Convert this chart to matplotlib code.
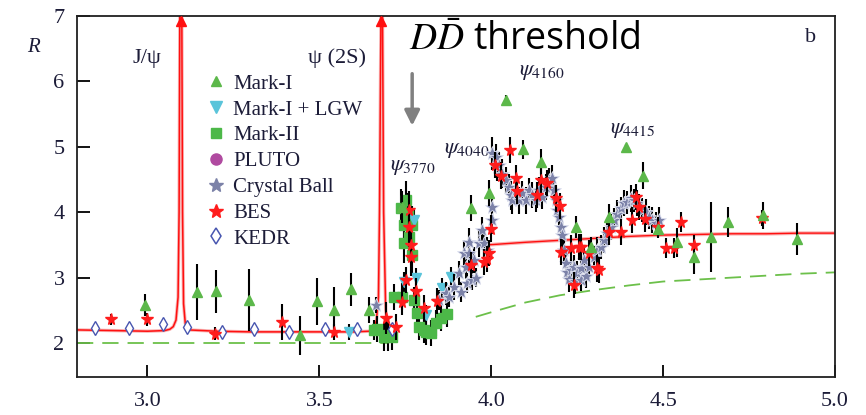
import matplotlib
matplotlib.use("Agg")
import matplotlib.pyplot as plt
from matplotlib.lines import Line2D

plt.rcParams['mathtext.fontset'] = 'stix'

# ---------------- data ----------------
# red resonance + continuum curve (low-energy part)
curve_x = [2.795, 2.9, 3.0, 3.05, 3.065, 3.075, 3.083, 3.089, 3.092, 3.0945,
           3.0995, 3.102, 3.105, 3.11, 3.12, 3.2, 3.3, 3.4, 3.5, 3.6, 3.645,
           3.658, 3.666, 3.672, 3.675, 3.680, 3.683, 3.687, 3.693, 3.70, 3.73]
curve_R = [2.20, 2.19, 2.18, 2.19, 2.21, 2.25, 2.35, 2.70, 4.0, 7.6,
           7.6, 4.0, 2.6, 2.30, 2.20, 2.18, 2.17, 2.17, 2.17, 2.17, 2.18,
           2.22, 2.35, 2.70, 4.0, 7.6, 7.6, 4.0, 2.50, 2.28, 2.25]
peak_x = [3.097, 3.680]
peak_R = [6.93, 6.93]

cont_x = [3.99, 4.1, 4.2, 4.3, 4.4, 4.5, 4.6, 4.7, 4.8, 4.9, 5.0]
cont_R = [3.50, 3.54, 3.57, 3.60, 3.63, 3.65, 3.66, 3.67, 3.67, 3.68, 3.68]

dash1_x = [2.795, 3.70]
dash1_R = [2.0, 2.0]
dash2_x = [3.955, 4.0, 4.1, 4.2, 4.3, 4.4, 4.5, 4.6, 4.7, 4.8, 4.9, 5.0]
dash2_R = [2.40, 2.47, 2.62, 2.73, 2.81, 2.88, 2.94, 2.97, 3.00, 3.03, 3.06, 3.08]

markI_x = [2.994, 3.145, 3.198, 3.296, 3.445, 3.494, 3.544, 3.593, 3.643, 3.741,
           3.942, 3.994, 4.044, 4.093, 4.145, 4.247, 4.29, 4.343, 4.392, 4.442,
           4.486, 4.54, 4.59, 4.64, 4.69, 4.79, 4.89]
markI_R = [2.58, 2.78, 2.79, 2.66, 2.12, 2.64, 2.50, 2.82, 2.50, 4.08,
           4.07, 4.29, 5.71, 4.96, 4.77, 3.77, 3.47, 3.92, 4.99, 4.56,
           3.75, 3.54, 3.31, 3.62, 3.85, 3.95, 3.59]
markI_e = [0.17, 0.43, 0.33, 0.47, 0.30, 0.36, 0.35, 0.25, 0.20, 0.25,
           0.20, 0.20, 0.08, 0.15, 0.19, 0.17, 0.15, 0.20, 0.06, 0.20,
           0.15, 0.22, 0.25, 0.53, 0.23, 0.20, 0.25]

lgw_x = [3.587, 3.747, 3.776, 3.782, 3.810, 3.858, 3.884]
lgw_R = [2.17, 2.93, 3.88, 2.99, 2.43, 2.84, 3.01]
lgw_e = [0.12, 0.15, 0.15, 0.15, 0.15, 0.15, 0.15]

markII_x = [3.660, 3.669, 3.689, 3.700, 3.712, 3.718, 3.738, 3.741, 3.747, 3.747,
            3.753, 3.757, 3.762, 3.770, 3.770, 3.776, 3.785, 3.791, 3.805, 3.810,
            3.826, 3.840, 3.855, 3.870]
markII_R = [2.20, 2.22, 2.09, 2.12, 2.09, 2.70, 4.06, 2.71, 3.80, 3.53,
            4.18, 3.95, 3.62, 3.80, 3.34, 2.66, 2.46, 2.25, 2.20, 2.17,
            2.15, 2.30, 2.38, 2.45]
markII_e = [0.15, 0.20, 0.22, 0.25, 0.20, 0.20, 0.30, 0.20, 0.30, 0.30,
            0.30, 0.35, 0.30, 0.30, 0.30, 0.20, 0.20, 0.20, 0.20, 0.20,
            0.20, 0.20, 0.20, 0.20]

pluto_x = []
pluto_R = []

cb_x = [3.666, 3.849, 3.869, 3.878, 3.892, 3.907, 3.913, 3.922, 3.927, 3.930,
        3.936, 3.936, 3.945, 3.951, 3.956, 3.965, 3.974, 3.980, 3.988, 4.003,
        4.003, 4.003, 4.014, 4.017, 4.023, 4.032, 4.044, 4.052, 4.058, 4.061,
        4.073, 4.081, 4.090, 4.102, 4.110, 4.119, 4.131, 4.140, 4.148, 4.160,
        4.169, 4.177, 4.183, 4.189, 4.192, 4.198, 4.204, 4.206, 4.212, 4.218,
        4.221, 4.226, 4.233, 4.241, 4.245, 4.250, 4.260, 4.262, 4.270, 4.275,
        4.285, 4.300, 4.308, 4.320, 4.328, 4.337, 4.349, 4.357, 4.366, 4.378,
        4.387, 4.395, 4.407, 4.416, 4.424, 4.439, 4.451, 4.459, 4.468, 4.480,
        4.488]
cb_R = [2.58, 2.66, 2.76, 2.70, 2.86, 3.07, 2.78, 3.37, 3.16, 2.92,
        3.37, 3.54, 2.96, 3.27, 3.00, 3.53, 3.73, 3.53, 3.42, 3.88,
        4.08, 4.90, 4.84, 4.69, 4.72, 4.59, 4.49, 4.38, 4.26, 4.18,
        4.34, 4.18, 4.29, 4.18, 4.34, 4.26, 4.18, 4.34, 4.23, 4.38,
        4.49, 4.52, 4.34, 4.18, 4.03, 3.92, 3.77, 3.65, 3.42, 3.22,
        3.08, 2.98, 3.11, 3.16, 2.95, 3.07, 2.97, 3.15, 3.27, 3.02,
        3.16, 3.31, 3.42, 3.47, 3.57, 3.68, 3.77, 3.88, 3.98, 4.06,
        4.14, 4.15, 4.21, 4.18, 4.14, 4.03, 4.00, 3.92, 3.88, 3.83,
        3.88]
cb_e = [0.12, 0.15, 0.18, 0.15, 0.20, 0.18, 0.15, 0.20, 0.18, 0.15,
        0.20, 0.22, 0.15, 0.20, 0.15, 0.22, 0.20, 0.22, 0.20, 0.22,
        0.20, 0.25, 0.20, 0.22, 0.20, 0.22, 0.20, 0.20, 0.22, 0.20,
        0.18, 0.20, 0.18, 0.20, 0.18, 0.20, 0.18, 0.20, 0.18, 0.20,
        0.18, 0.20, 0.18, 0.20, 0.18, 0.20, 0.18, 0.20, 0.18, 0.18,
        0.18, 0.20, 0.18, 0.18, 0.20, 0.18, 0.18, 0.18, 0.18, 0.18,
        0.18, 0.18, 0.20, 0.18, 0.20, 0.18, 0.20, 0.18, 0.20, 0.18,
        0.20, 0.18, 0.20, 0.18, 0.20, 0.18, 0.20, 0.18, 0.20, 0.18,
        0.20]

bes_x = [2.895, 3.000, 3.195, 3.392, 3.544, 3.695, 3.724, 3.741, 3.753, 3.762,
         3.762, 3.767, 3.767, 3.782, 3.803, 3.841, 3.942, 3.980, 3.988, 3.994,
         4.000, 4.012, 4.029, 4.055, 4.073, 4.076, 4.134, 4.145, 4.163, 4.189,
         4.200, 4.204, 4.233, 4.241, 4.256, 4.262, 4.285, 4.308, 4.314, 4.343,
         4.378, 4.410, 4.422, 4.430, 4.448, 4.486, 4.509, 4.532, 4.552, 4.590,
         4.788]
bes_R = [2.36, 2.36, 2.14, 2.32, 2.17, 2.38, 2.25, 2.63, 2.96, 4.03,
         3.77, 3.50, 3.32, 2.80, 2.53, 2.64, 3.19, 3.24, 3.28, 3.37,
         3.75, 4.72, 4.56, 4.95, 4.52, 4.33, 4.26, 4.49, 4.44, 4.21,
         4.10, 3.39, 3.45, 2.89, 3.47, 3.47, 3.37, 3.14, 3.11, 3.70,
         3.70, 3.88, 4.23, 4.08, 3.90, 3.77, 3.45, 3.45, 3.85, 3.50,
         3.91]
bes_e = [0.08, 0.10, 0.10, 0.28, 0.12, 0.25, 0.20, 0.20, 0.20, 0.30,
         0.30, 0.30, 0.30, 0.20, 0.20, 0.20, 0.20, 0.20, 0.20, 0.20,
         0.20, 0.20, 0.20, 0.20, 0.20, 0.20, 0.20, 0.20, 0.20, 0.20,
         0.20, 0.20, 0.20, 0.20, 0.20, 0.20, 0.20, 0.20, 0.20, 0.20,
         0.20, 0.20, 0.20, 0.20, 0.20, 0.15, 0.15, 0.15, 0.15, 0.15,
         0.12]

kedr_x = [2.846, 2.945, 3.044, 3.116, 3.218, 3.311, 3.413, 3.515, 3.610, 3.712]
kedr_R = [2.23, 2.23, 2.29, 2.25, 2.17, 2.21, 2.17, 2.21, 2.22, 2.22]

xticks = [3.0, 3.5, 4.0, 4.5, 5.0]
xticklabels = ['3.0', '3.5', '4.0', '4.5', '5.0']
yticks = [2, 3, 4, 5, 6, 7]

# ---------------- colours ----------------
C_MI = '#5cb84a'
C_LGW = '#5ac4da'
C_MII = '#4cb848'
C_PLUTO = '#b04aa0'
C_CB = '#7c82a8'
C_BES = '#ff1c1c'
C_KEDR = '#4856b0'
C_TXT = '#1c1c38'

fig = plt.figure(figsize=(8.66, 4.15), dpi=100)
ax = fig.add_axes([77/866, 1-377/415, (835-77)/866, (377-16)/415])
ax.set_xlim(2.795, 5.0)
ax.set_ylim(1.48, 7.0)

serif = 'Liberation Serif'

# curves
ax.plot(curve_x, curve_R, color='#f8b4b4', lw=2.4, zorder=1)
ax.plot(curve_x, curve_R, color='#ff1010', lw=1.1, zorder=2)
ax.plot(cont_x, cont_R, color='#f8b4b4', lw=2.6, zorder=1)
ax.plot(cont_x, cont_R, color='#ff1010', lw=1.0, zorder=2)
ax.plot(peak_x, peak_R, linestyle='none', marker='^', ms=6.5, color='#ff1010',
        clip_on=False, zorder=3)
ax.plot(dash1_x, dash1_R, color='#6cc04a', lw=1.3, dashes=(9, 5), zorder=2)
ax.plot(dash2_x, dash2_R, color='#6cc04a', lw=1.3, dashes=(9, 5), zorder=2)

ekw = dict(ecolor='black', elinewidth=1.5, capsize=0, linestyle='none')

ax.errorbar(markII_x, markII_R, yerr=markII_e, marker='s', ms=7.5, mfc=C_MII,
            mec=C_MII, zorder=4, **ekw)
ax.errorbar(lgw_x, lgw_R, yerr=lgw_e, marker='v', ms=6.5, mfc=C_LGW, mec=C_LGW,
            zorder=4, **ekw)
ax.plot(pluto_x, pluto_R, linestyle='none', marker='o', ms=8, color=C_PLUTO)
ax.errorbar(cb_x, cb_R, yerr=cb_e, marker='*', ms=10, mfc=C_CB, mec='#dfe2f0',
            mew=0.6, zorder=5, **ekw)
ax.errorbar(bes_x, bes_R, yerr=bes_e, marker='*', ms=8.5, mfc=C_BES, mec=C_BES,
            zorder=6, **ekw)
ax.errorbar(markI_x, markI_R, yerr=markI_e, marker='^', ms=7, mfc=C_MI, mec=C_MI,
            zorder=6, **ekw)
ax.plot(kedr_x, kedr_R, linestyle='none', marker='d', ms=7, mfc='white',
        mec=C_KEDR, mew=1.0, zorder=6)

# axes styling
ax.set_xticks(xticks)
ax.set_xticklabels(xticklabels)
ax.set_yticks(yticks)
ax.tick_params(direction='in', length=9, width=1.3, labelsize=16, colors='black',
               labelcolor=C_TXT, pad=9)
ax.tick_params(axis='x', pad=11)
for lab in ax.get_xticklabels() + ax.get_yticklabels():
    lab.set_fontfamily(serif)
for s in ax.spines.values():
    s.set_linewidth(1.3)
    s.set_color('#202020')

ax.text(-0.058, 6.52, 'R', transform=ax.get_yaxis_transform(), fontsize=15,
        fontstyle='italic', family=serif, color=C_TXT, ha='center', va='center')

# annotations
ax.text(2.997, 6.35, 'J/ψ', family=serif, fontsize=16, color=C_TXT,
        ha='center', va='center')
ax.text(3.552, 6.36, 'ψ (2S)', family=serif, fontsize=16, color=C_TXT,
        ha='center', va='center')
ax.text(3.773, 4.69, r'$\psi_{\mathrm{3770}}$', fontsize=16, color=C_TXT,
        ha='center', va='center')
ax.text(3.928, 4.95, r'$\psi_{\mathrm{4040}}$', fontsize=16, color=C_TXT,
        ha='center', va='center')
ax.text(4.147, 6.15, r'$\psi_{\mathrm{4160}}$', fontsize=16, color=C_TXT,
        ha='center', va='center')
ax.text(4.412, 5.25, r'$\psi_{\mathrm{4415}}$', fontsize=16, color=C_TXT,
        ha='center', va='center')
ax.text(4.93, 6.67, 'b', family=serif, fontsize=16, color=C_TXT,
        ha='center', va='center')

ax.text(3.762, 6.64, r'$D\bar{D}$ threshold', family='Open Sans', fontsize=27,
        color='black', ha='left', va='center', zorder=10)
ax.annotate('', xy=(3.770, 5.28), xytext=(3.770, 6.16),
            arrowprops=dict(arrowstyle='-|>,head_width=0.45,head_length=0.9',
                            color='#808080', lw=2.5))

handles = [
    Line2D([], [], linestyle='none', marker='^', ms=7, color=C_MI),
    Line2D([], [], linestyle='none', marker='v', ms=8, color=C_LGW),
    Line2D([], [], linestyle='none', marker='s', ms=7, color=C_MII),
    Line2D([], [], linestyle='none', marker='o', ms=8, color=C_PLUTO),
    Line2D([], [], linestyle='none', marker='*', ms=10, mfc=C_CB, mec=C_CB),
    Line2D([], [], linestyle='none', marker='*', ms=10, color=C_BES),
    Line2D([], [], linestyle='none', marker='d', ms=8, mfc='white', mec=C_KEDR, mew=1.1),
]
labels = ['Mark-I', 'Mark-I + LGW', 'Mark-II', 'PLUTO', 'Crystal Ball', 'BES', 'KEDR']
leg = ax.legend(handles, labels, loc='upper left', bbox_to_anchor=(0.158, 0.862),
                frameon=False, prop={'family': serif, 'size': 15},
                handletextpad=0.35, labelspacing=0.3, handlelength=1.0,
                borderaxespad=0)
for t in leg.get_texts():
    t.set_color(C_TXT)

fig.savefig('out.png', dpi=100)
